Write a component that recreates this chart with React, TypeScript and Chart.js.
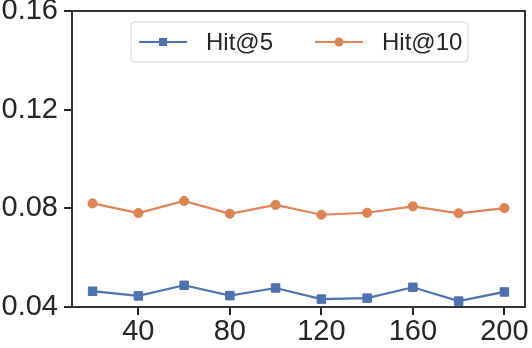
import { useEffect, useRef } from "react";
import { Chart, registerables } from "chart.js";

Chart.register(...registerables);

const xValues = [20, 40, 60, 80, 100, 120, 140, 160, 180, 200];
const hit5 = [0.0464, 0.0445, 0.0488, 0.0446, 0.0477, 0.0432, 0.0436, 0.048, 0.0424, 0.0461];
const hit10 = [0.082, 0.0781, 0.083, 0.0778, 0.0814, 0.0774, 0.0782, 0.0808, 0.078, 0.0801];
const xTicks = [40, 80, 120, 160, 200];
const yTicks = [0.04, 0.08, 0.12, 0.16];
const seriesLabels = ["Hit@5", "Hit@10"];

const FONT = "'Liberation Sans', Arial, sans-serif";
const DARK = "#262626";
const BLUE = "#4c72b0";
const ORANGE = "#dd8452";

const frameAndLegend = {
  id: "frameAndLegend",
  afterDraw(chart: any) {
    const { ctx, chartArea } = chart;
    ctx.save();
    // frame
    ctx.strokeStyle = "#333333";
    ctx.lineWidth = 2;
    ctx.strokeRect(chartArea.left, chartArea.top, chartArea.right - chartArea.left, chartArea.bottom - chartArea.top);
    // legend box
    const bx = 131, by = 22, bw = 337, bh = 40, r = 4;
    ctx.beginPath();
    ctx.moveTo(bx + r, by);
    ctx.lineTo(bx + bw - r, by);
    ctx.arcTo(bx + bw, by, bx + bw, by + r, r);
    ctx.lineTo(bx + bw, by + bh - r);
    ctx.arcTo(bx + bw, by + bh, bx + bw - r, by + bh, r);
    ctx.lineTo(bx + r, by + bh);
    ctx.arcTo(bx, by + bh, bx, by + bh - r, r);
    ctx.lineTo(bx, by + r);
    ctx.arcTo(bx, by, bx + r, by, r);
    ctx.closePath();
    ctx.fillStyle = "rgba(255,255,255,0.85)";
    ctx.fill();
    ctx.strokeStyle = "#d6d6d6";
    ctx.lineWidth = 1;
    ctx.stroke();
    const items = [
      { lineX: 139, textX: 206 },
      { lineX: 315, textX: 382 },
    ];
    const cy = by + bh / 2;
    chart.data.datasets.forEach((ds: any, i: number) => {
      const it = items[i];
      ctx.strokeStyle = ds.borderColor;
      ctx.lineWidth = 2;
      ctx.beginPath();
      ctx.moveTo(it.lineX, cy);
      ctx.lineTo(it.lineX + 48, cy);
      ctx.stroke();
      ctx.fillStyle = ds.borderColor;
      const mx = it.lineX + 24;
      if (ds.pointStyle === "rect") {
        ctx.fillRect(mx - 4, cy - 4, 8, 8);
      } else {
        ctx.beginPath();
        ctx.arc(mx, cy, 4.5, 0, Math.PI * 2);
        ctx.fill();
      }
      ctx.fillStyle = DARK;
      ctx.font = `24px ${FONT}`;
      ctx.textBaseline = "middle";
      ctx.textAlign = "left";
      ctx.fillText(ds.label, it.textX, cy + 1);
    });
    ctx.restore();
  },
};

export default function App() {
  const ref = useRef<HTMLCanvasElement | null>(null);
  useEffect(() => {
    document.body.style.margin = "0";
    const canvas = ref.current;
    if (!canvas) return;
    const chart = new Chart(canvas, {
      type: "line",
      data: {
        datasets: [
          {
            label: seriesLabels[0],
            data: xValues.map((x, i) => ({ x, y: hit5[i] })),
            borderColor: BLUE,
            backgroundColor: BLUE,
            borderWidth: 2.2,
            pointStyle: "rect",
            pointRadius: 6,
            pointBorderWidth: 1,
            pointBackgroundColor: BLUE,
            pointBorderColor: BLUE,
            tension: 0,
          },
          {
            label: seriesLabels[1],
            data: xValues.map((x, i) => ({ x, y: hit10[i] })),
            borderColor: ORANGE,
            backgroundColor: ORANGE,
            borderWidth: 2.2,
            pointStyle: "circle",
            pointRadius: 4.6,
            pointBorderWidth: 1,
            pointBackgroundColor: ORANGE,
            pointBorderColor: ORANGE,
            tension: 0,
          },
        ],
      },
      options: {
        responsive: false,
        animation: false,
        devicePixelRatio: 1,
        layout: { padding: { top: 11, right: 5, left: 0, bottom: 0 } },
        plugins: { legend: { display: false }, tooltip: { enabled: false } },
        scales: {
          x: {
            type: "linear",
            min: 11,
            max: 209,
            afterBuildTicks: (scale: any) => {
              scale.ticks = xTicks.map((v) => ({ value: v }));
            },
            afterFit: (scale: any) => {
              scale.height = 41;
              scale.paddingLeft = 0;
              scale.paddingRight = 0;
            },
            grid: { drawOnChartArea: false, drawTicks: true, tickLength: 8, tickColor: DARK, lineWidth: 2, color: DARK },
            border: { display: false },
            ticks: {
              padding: 2,
              color: DARK,
              font: { family: FONT, size: 29, lineHeight: 1 },
              maxRotation: 0,
              autoSkip: false,
              callback: (v: any) => String(v),
            },
          },
          y: {
            type: "linear",
            min: 0.04,
            max: 0.16,
            afterBuildTicks: (scale: any) => {
              scale.ticks = yTicks.map((v) => ({ value: v }));
            },
            afterFit: (scale: any) => {
              scale.width = 72;
              scale.paddingTop = 0;
              scale.paddingBottom = 0;
            },
            grid: { drawOnChartArea: false, drawTicks: true, tickLength: 8, tickColor: DARK, lineWidth: 2, color: DARK },
            border: { display: false },
            ticks: {
              padding: 6,
              color: DARK,
              font: { family: FONT, size: 29, lineHeight: 1 },
              autoSkip: false,
              callback: (v: any) => Number(v).toFixed(2),
            },
          },
        },
      },
      plugins: [frameAndLegend],
    } as any);
    return () => chart.destroy();
  }, []);
  return (
    <div style={{ width: 532, height: 348 }}>
      <canvas ref={ref} width={532} height={348} style={{ display: "block", width: 532, height: 348 }} />
    </div>
  );
}
